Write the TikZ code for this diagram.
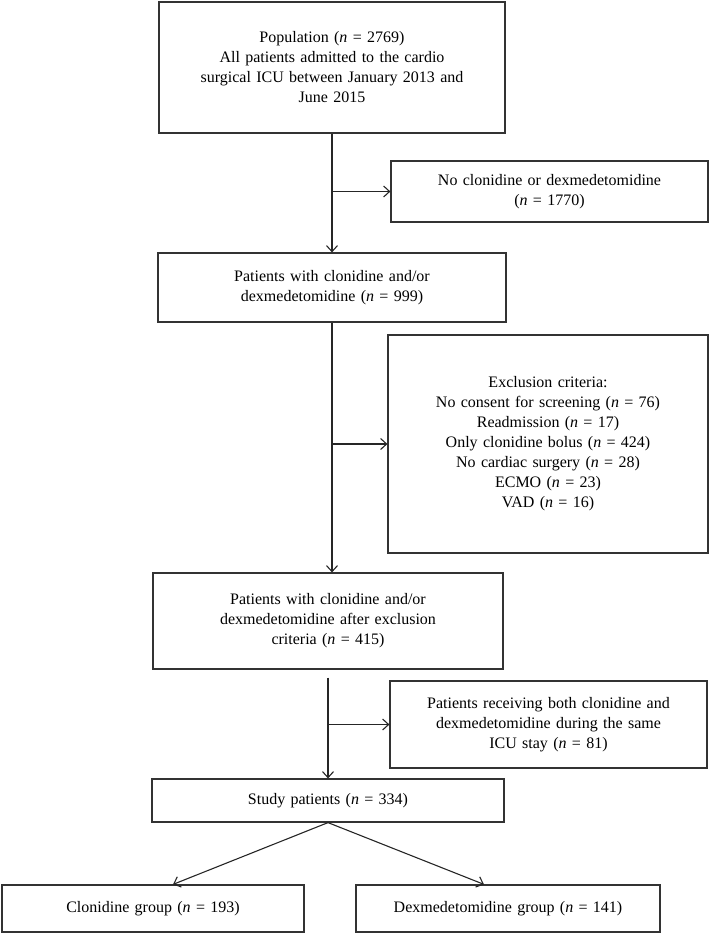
\documentclass[tikz,border=0pt]{standalone}
\usepackage{fontspec}
\setmainfont{Liberation Serif}
\usetikzlibrary{arrows.meta}
\tikzstyle{flowbox} = [rectangle, draw=black!80, line width=1.2pt, text centered, inner sep=4pt,
font=\fontsize{16}{20}\selectfont]
\tikzstyle{arrow} = [draw=black!85, line width=1.1pt, -{Straight Barb[length=6pt,width=11pt,line width=1.1pt]}]
\newcommand{\nn}{\textit{n}}

\begin{document}
\begin{tikzpicture}[x=1pt,y=-1pt]
    \useasboundingbox (0,0) rectangle (710,933);

    %Main Nodes
    \node (pop) [flowbox, minimum width=346pt, minimum height=131pt, text width=338pt] at (332,67.5)
        {Population (\nn{} = 2769)\\ All patients admitted to the cardio\\ surgical ICU between January 2013 and\\ June 2015};
    \node (withAny) [flowbox, minimum width=348pt, minimum height=69pt, text width=340pt] at (332,287.5)
        {Patients with clonidine and/or\\ dexmedetomidine (\nn{} = 999)};
    \node (afterExcl) [flowbox, minimum width=350pt, minimum height=96pt, text width=342pt] at (328,621)
        {Patients with clonidine and/or\\ dexmedetomidine after exclusion\\ criteria (\nn{} = 415)};
    \node (study) [flowbox, minimum width=352pt, minimum height=43pt, text width=344pt] at (328,800.5)
        {Study patients (\nn{} = 334)};
    \node (cloGroup) [flowbox, minimum width=302pt, minimum height=47pt, text width=294pt] at (153,908.5)
        {Clonidine group (\nn{} = 193)};
    \node (dexGroup) [flowbox, minimum width=304pt, minimum height=47pt, text width=296pt] at (508,908.5)
        {Dexmedetomidine group (\nn{} = 141)};

    %Side Nodes
    \node (noDrug) [flowbox, minimum width=317pt, minimum height=61pt, text width=309pt] at (549.5,191.5)
        {No clonidine or dexmedetomidine\\ (\nn{} = 1770)};
    \node (exclInfo) [flowbox, minimum width=320pt, minimum height=218pt, text width=312pt] at (548,444)
        {Exclusion criteria:\\ No consent for screening (\nn{} = 76)\\ Readmission (\nn{} = 17)\\
         Only clonidine bolus (\nn{} = 424)\\ No cardiac surgery (\nn{} = 28)\\ ECMO (\nn{} = 23)\\ VAD (\nn{} = 16)};
    \node (bothInfo) [flowbox, minimum width=317pt, minimum height=87pt, text width=309pt] at (548.5,724.5)
        {Patients receiving both clonidine and\\ dexmedetomidine during the same\\ ICU stay (\nn{} = 81)};

    \coordinate (gap) at ([yshift=-8pt]afterExcl.south);

    %Arrows
    \draw [arrow] (pop) -- (withAny);
    \draw [arrow] (pop.south |- noDrug.west) -- (noDrug.west);
    \draw [arrow] (withAny.south) -- (withAny.south |- afterExcl.north);
    \draw [arrow] (withAny.south |- exclInfo.west) -- (exclInfo.west);
    \draw [arrow] (gap) -- (study);
    \draw [arrow] (gap |- bothInfo.west) -- (bothInfo.west);
    \draw [arrow] (study.south) -- ([xshift=20pt]cloGroup.north);
    \draw [arrow] (study.south) -- ([xshift=-24pt]dexGroup.north);

\end{tikzpicture}
\end{document}
